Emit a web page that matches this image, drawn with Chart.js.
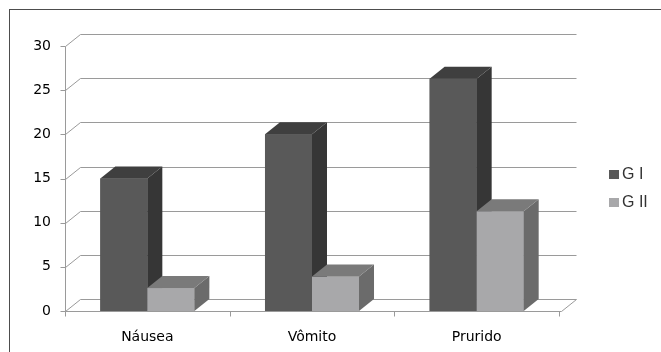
<!DOCTYPE html>
<html>
<head>
<meta charset="utf-8">
<script src="https://cdn.jsdelivr.net/npm/chart.js@4.4.0/dist/chart.umd.min.js"></script>
<style>
  html, body { margin: 0; padding: 0; background: #fff; }
  #wrap { width: 661px; height: 352px; }
</style>
</head>
<body>
<div id="wrap"><canvas id="c" width="661" height="352"></canvas></div>
<script>
// Values per category for each group
const categories = ['Náusea', 'Vômito', 'Prurido'];
const seriesNames = ['G I', 'G II'];
const gI = [15, 20, 26.3];
const gII = [2.6, 3.9, 11.3];
const yTicks = [0, 5, 10, 15, 20, 25, 30];

// Shading for the three visible faces of each column
const faceColors = [
  { front: '#595959', side: '#363636', top: '#3f3f3f' },
  { front: '#a8a8aa', side: '#6b6b6b', top: '#7a7a7a' }
];
const DX = 15, DY = 12;       // depth offset of the back wall
const GRID = '#9a9a9a';
const TICK_FONT = { family: '"DejaVu Sans", Verdana, sans-serif', size: 14 };

const depthPlugin = {
  id: 'depth3d',
  beforeDraw(chart) {
    const ctx = chart.ctx;
    ctx.save();
    ctx.fillStyle = '#fff';
    ctx.fillRect(0, 0, chart.width, chart.height);
    ctx.strokeStyle = '#4d4d4d';
    ctx.lineWidth = 1;
    ctx.strokeRect(9.5, 9.5, 900, 600);
    ctx.restore();
  },
  beforeDatasetsDraw(chart) {
    const { ctx, chartArea: a, scales: { x, y } } = chart;
    const L = Math.round(a.left) + 0.5;
    const R = Math.round(a.right) + 2.5;
    const y0 = Math.round(y.getPixelForValue(0)) + 0.5;
    const yTop = Math.round(y.getPixelForValue(yTicks[yTicks.length - 1])) + 0.5;
    ctx.save();
    ctx.strokeStyle = GRID;
    ctx.lineWidth = 1;
    // side wall diagonals + back wall gridlines + axis tick marks
    yTicks.forEach(v => {
      const py = Math.round(y.getPixelForValue(v)) + 0.5;
      ctx.beginPath();
      ctx.moveTo(L - 5, py);
      ctx.lineTo(L, py);
      ctx.lineTo(L + DX, py - DY);
      ctx.lineTo(R + DX, py - DY);
      ctx.stroke();
    });
    // front value axis
    ctx.beginPath();
    ctx.moveTo(L, yTop);
    ctx.lineTo(L, y0);
    ctx.stroke();
    // floor front and right edges
    ctx.beginPath();
    ctx.moveTo(L, y0);
    ctx.lineTo(R, y0);
    ctx.lineTo(R + DX, y0 - DY);
    ctx.stroke();
    // category boundary ticks
    const step = (a.right - a.left) / categories.length;
    for (let i = 0; i <= categories.length; i++) {
      const px = Math.round(a.left + i * step) + 0.5;
      ctx.beginPath();
      ctx.moveTo(px, y0);
      ctx.lineTo(px, y0 + 5);
      ctx.stroke();
    }
    ctx.restore();
  },
  afterDatasetsDraw(chart) {
    const ctx = chart.ctx;
    const metas = chart.data.datasets.map((d, i) => chart.getDatasetMeta(i));
    ctx.save();
    for (let c = 0; c < categories.length; c++) {
      metas.forEach((m, si) => {
        const el = m.data[c];
        const p = el.getProps(['x', 'y', 'base', 'width'], true);
        const l = p.x - p.width / 2, r = p.x + p.width / 2;
        const top = p.y, base = p.base;
        const col = faceColors[si];
        ctx.fillStyle = col.front;
        ctx.fillRect(l, top, r - l, base - top);
        ctx.fillStyle = col.side;
        ctx.beginPath();
        ctx.moveTo(r, base);
        ctx.lineTo(r + DX, base - DY);
        ctx.lineTo(r + DX, top - DY);
        ctx.lineTo(r, top);
        ctx.closePath();
        ctx.fill();
        ctx.fillStyle = col.top;
        ctx.beginPath();
        ctx.moveTo(l, top);
        ctx.lineTo(r, top);
        ctx.lineTo(r + DX, top - DY);
        ctx.lineTo(l + DX, top - DY);
        ctx.closePath();
        ctx.fill();
      });
    }
    ctx.restore();
  },
  afterDraw(chart) {
    const ctx = chart.ctx;
    ctx.save();
    ctx.font = '16px "Liberation Sans", Arial, sans-serif';
    ctx.textBaseline = 'middle';
    chart.data.datasets.forEach((d, i) => {
      const cy = 174 + i * 28;
      ctx.fillStyle = faceColors[i].front;
      ctx.fillRect(609, cy - 4, 10, 9);
      ctx.fillStyle = '#333';
      ctx.fillText(d.label, 622, cy + 1);
    });
    ctx.restore();
  }
};

new Chart(document.getElementById('c'), {
  type: 'bar',
  data: {
    labels: categories,
    datasets: [
      { label: seriesNames[0], data: gI, backgroundColor: faceColors[0].front, borderWidth: 0 },
      { label: seriesNames[1], data: gII, backgroundColor: faceColors[1].front, borderWidth: 0 }
    ]
  },
  options: {
    responsive: false,
    animation: false,
    events: [],
    layout: { padding: { left: 0, right: 102, top: 46, bottom: 0 } },
    plugins: { legend: { display: false }, tooltip: { enabled: false } },
    datasets: { bar: { categoryPercentage: 0.571, barPercentage: 1 } },
    scales: {
      x: {
        grid: { display: false, drawTicks: false },
        border: { display: false },
        ticks: { color: '#000', font: TICK_FONT, padding: 18 },
        afterFit(s) { s.height = 41; }
      },
      y: {
        min: 0, max: 30,
        grid: { display: false, drawTicks: false },
        border: { display: false },
        ticks: { stepSize: 5, color: '#000', font: TICK_FONT, padding: 14 },
        afterFit(s) { s.width = 65; }
      }
    }
  },
  plugins: [depthPlugin]
});
</script>
</body>
</html>
